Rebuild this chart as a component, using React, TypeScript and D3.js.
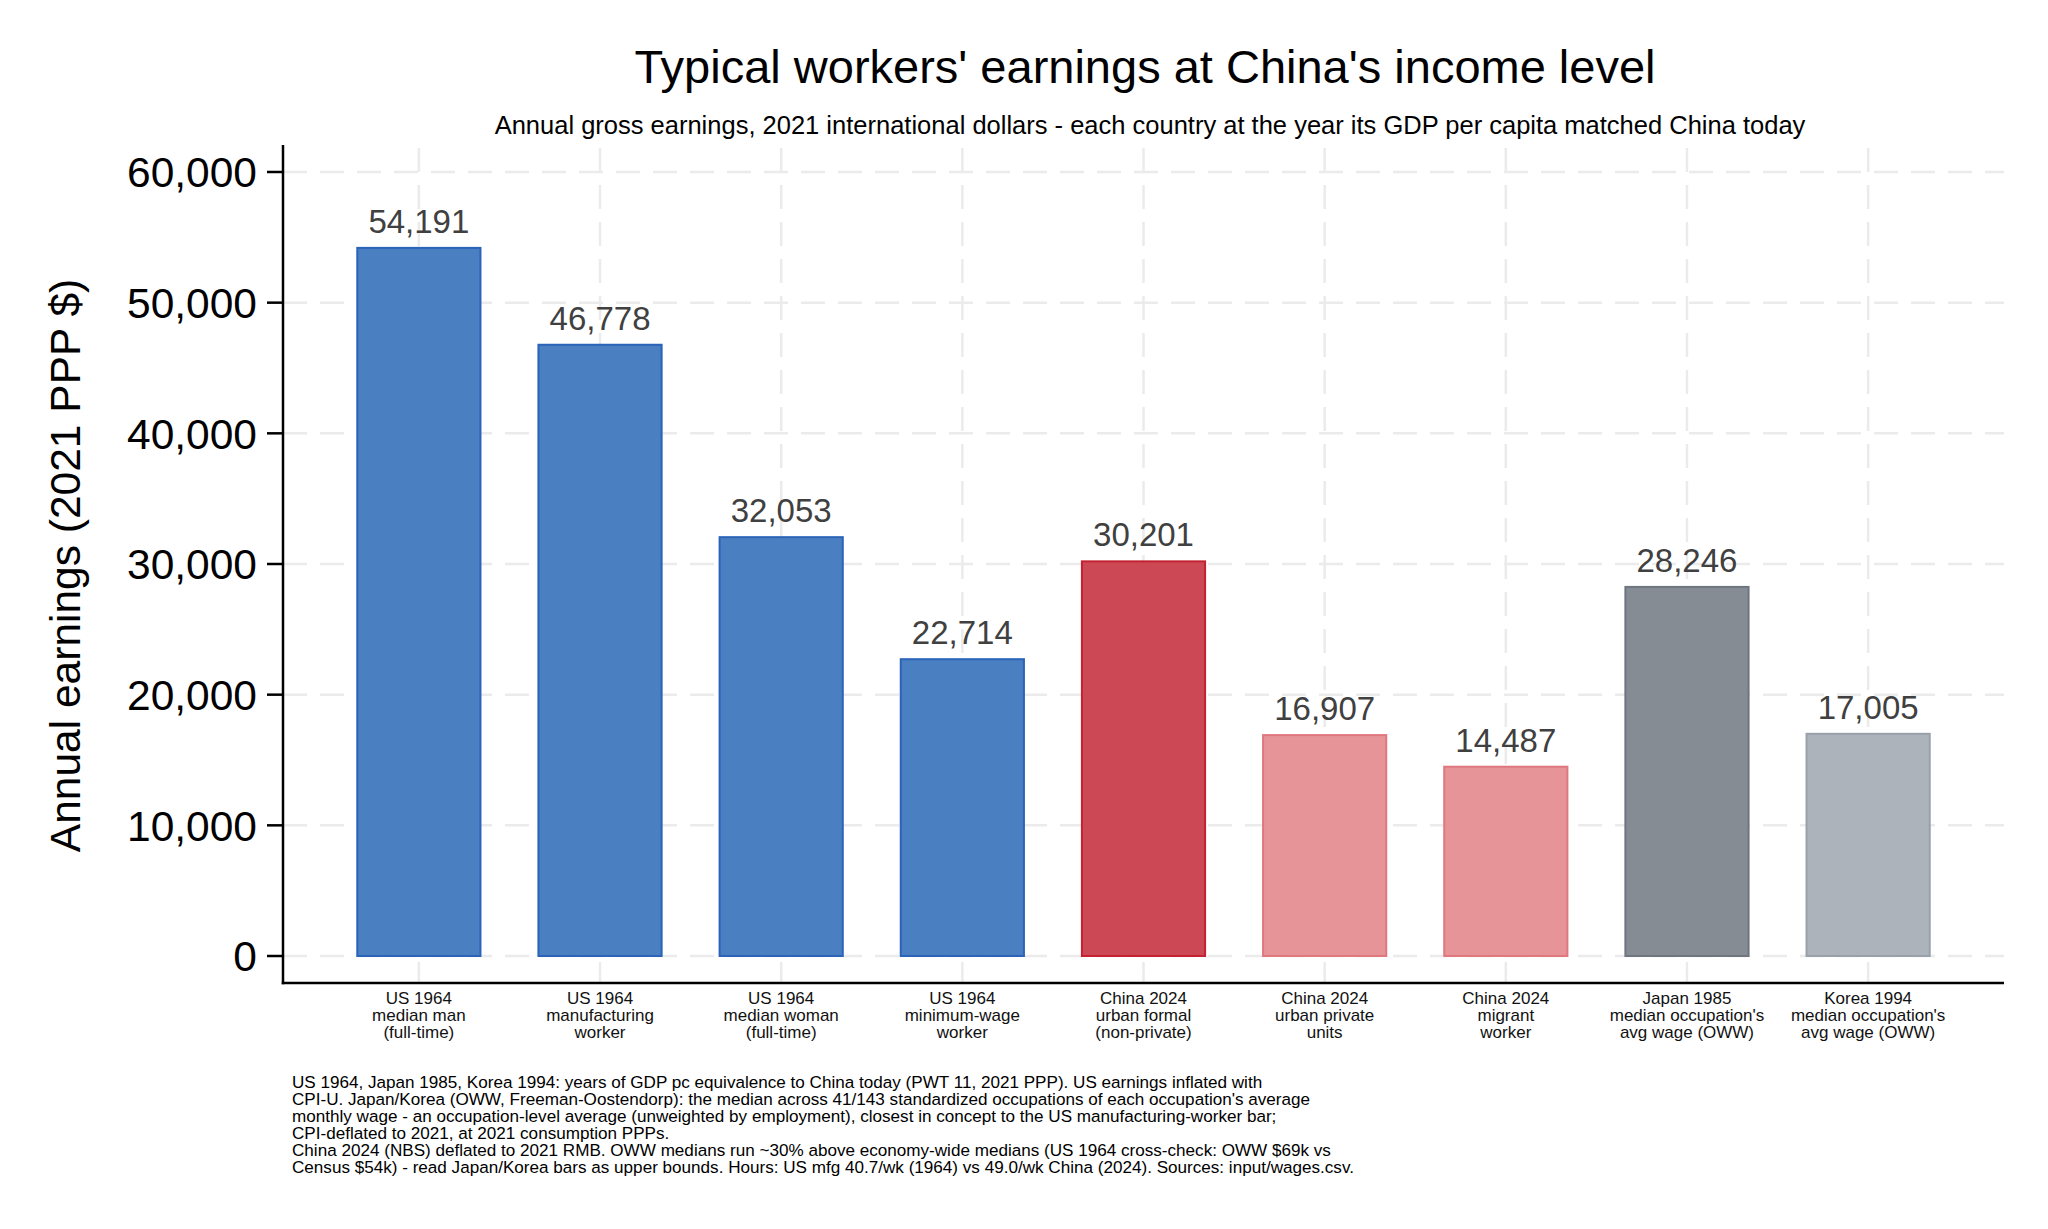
import React from "react";
import * as d3 from "d3";

const categories: string[][] = [
  ["US 1964", "median man", "(full-time)"],
  ["US 1964", "manufacturing", "worker"],
  ["US 1964", "median woman", "(full-time)"],
  ["US 1964", "minimum-wage", "worker"],
  ["China 2024", "urban formal", "(non-private)"],
  ["China 2024", "urban private", "units"],
  ["China 2024", "migrant", "worker"],
  ["Japan 1985", "median occupation's", "avg wage (OWW)"],
  ["Korea 1994", "median occupation's", "avg wage (OWW)"],
];
const earnings: number[] = [54191, 46778, 32053, 22714, 30201, 16907, 14487, 28246, 17005];
const fillColors: string[] = ["#4a7fc1", "#4a7fc1", "#4a7fc1", "#4a7fc1", "#cc4854", "#e69497", "#e69497", "#868c94", "#adb3bb"];
const strokeColors: string[] = ["#2a63b8", "#2a63b8", "#2a63b8", "#2a63b8", "#c42233", "#e07880", "#e07880", "#6f7680", "#98a0aa"];
const yTicks: number[] = [0, 10000, 20000, 30000, 40000, 50000, 60000];
const titleText = "Typical workers' earnings at China's income level";
const subtitleText = "Annual gross earnings, 2021 international dollars - each country at the year its GDP per capita matched China today";
const yAxisTitle = "Annual earnings (2021 PPP $)";
const noteLines: string[] = [
  "US 1964, Japan 1985, Korea 1994: years of GDP pc equivalence to China today (PWT 11, 2021 PPP). US earnings inflated with",
  "CPI-U. Japan/Korea (OWW, Freeman-Oostendorp): the median across 41/143 standardized occupations of each occupation's average",
  "monthly wage - an occupation-level average (unweighted by employment), closest in concept to the US manufacturing-worker bar;",
  "CPI-deflated to 2021, at 2021 consumption PPPs.",
  "China 2024 (NBS) deflated to 2021 RMB. OWW medians run ~30% above economy-wide medians (US 1964 cross-check: OWW $69k vs",
  "Census $54k) - read Japan/Korea bars as upper bounds. Hours: US mfg 40.7/wk (1964) vs 49.0/wk China (2024). Sources: input/wages.csv.",
];

const W = 2048;
const H = 1229;
const left = 283;
const right = 2004;
const top = 148;
const bottom = 983;
const FONT = "'Liberation Sans', Arial, Helvetica, sans-serif";

export default function App() {
  const idx = categories.map((_, i) => String(i));
  const x = d3.scalePoint<string>().domain(idx).range([left, right]).padding(0.75);
  const step = x.step();
  const barW = step * 0.68;
  const y = d3.scaleLinear().domain([-2066, 61836]).range([bottom, top]);
  const fmt = d3.format(",");
  const grid = "#ebebeb";

  return (
    <div style={{ position: "absolute", left: 0, top: 0, width: W, height: H, background: "#fff" }}>
      <svg width={W} height={H} style={{ display: "block", fontFamily: FONT }}>
        <rect x={0} y={0} width={W} height={H} fill="#fff" />
        {/* gridlines */}
        {yTicks.map((t) => (
          <line key={"gy" + t} x1={left} x2={right} y1={y(t)} y2={y(t)} stroke={grid} strokeWidth={2.5} strokeDasharray="24 13" />
        ))}
        {idx.map((k) => (
          <line key={"gx" + k} x1={x(k)} x2={x(k)} y1={top} y2={bottom} stroke={grid} strokeWidth={2.5} strokeDasharray="24 13" />
        ))}
        {/* bars */}
        {earnings.map((v, i) => {
          const cx = x(String(i)) as number;
          return (
            <rect
              key={"b" + i}
              x={cx - barW / 2}
              y={y(v)}
              width={barW}
              height={y(0) - y(v)}
              fill={fillColors[i]}
              stroke={strokeColors[i]}
              strokeWidth={2}
            />
          );
        })}
        {/* value labels */}
        {earnings.map((v, i) => (
          <text key={"v" + i} x={x(String(i))} y={y(v) - 15} textAnchor="middle" fontSize={33} fill="#404040">
            {fmt(v)}
          </text>
        ))}
        {/* axes */}
        <line x1={left} x2={left} y1={145} y2={bottom + 1.25} stroke="#000" strokeWidth={2.5} />
        <line x1={left - 1.25} x2={right} y1={bottom} y2={bottom} stroke="#000" strokeWidth={2.5} />
        {yTicks.map((t) => (
          <g key={"yt" + t}>
            <line x1={left - 16} x2={left} y1={y(t)} y2={y(t)} stroke="#000" strokeWidth={2.5} />
            <text x={left - 26} y={y(t)} dy="0.36em" textAnchor="end" fontSize={42.5} fill="#000">
              {fmt(t)}
            </text>
          </g>
        ))}
        {/* x labels */}
        {categories.map((lines, i) => (
          <text key={"xl" + i} x={x(String(i))} y={1004} textAnchor="middle" fontSize={17} fill="#111">
            {lines.map((ln, j) => (
              <tspan key={j} x={x(String(i))} y={1004 + j * 17}>
                {ln}
              </tspan>
            ))}
          </text>
        ))}
        {/* y axis title */}
        <text transform={`translate(80,${(top + bottom) / 2}) rotate(-90)`} textAnchor="middle" fontSize={42.5} fill="#000">
          {yAxisTitle}
        </text>
        {/* title */}
        <text x={1145} y={83} textAnchor="middle" fontSize={47} fill="#000">
          {titleText}
        </text>
        <text x={1150} y={134} textAnchor="middle" fontSize={25.5} fill="#000">
          {subtitleText}
        </text>
        {/* note */}
        <text x={292} y={1088} fontSize={17.1} fill="#000">
          {noteLines.map((ln, j) => (
            <tspan key={j} x={292} y={1088 + j * 17}>
              {ln}
            </tspan>
          ))}
        </text>
      </svg>
    </div>
  );
}
